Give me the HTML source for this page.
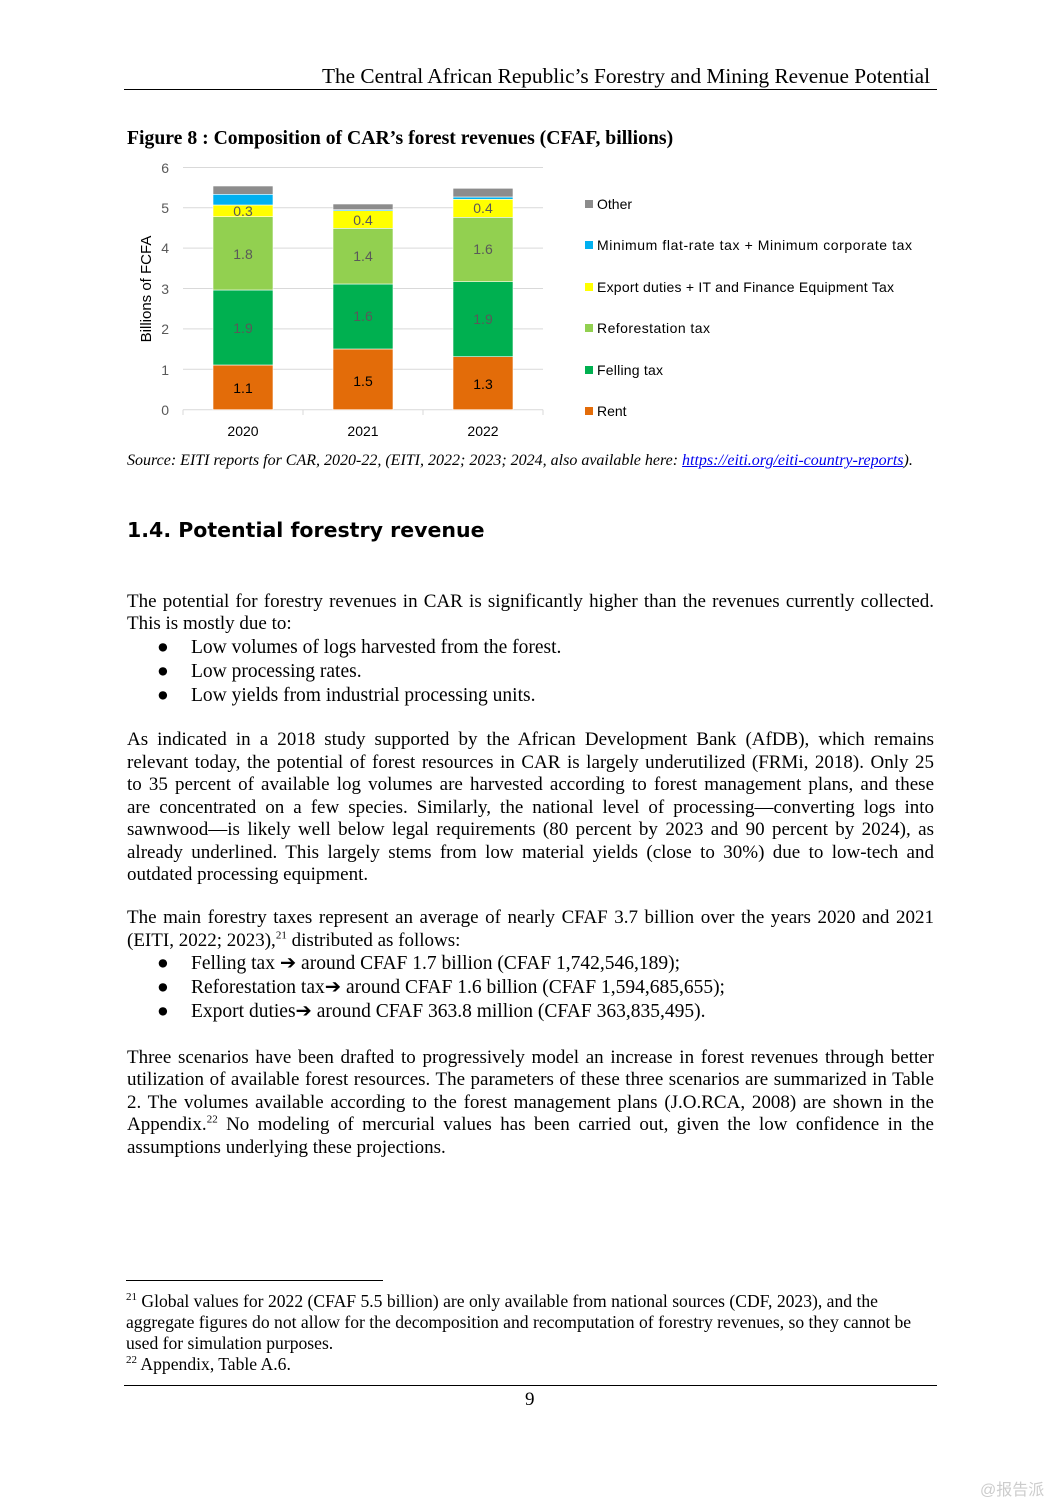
<!DOCTYPE html>
<html><head><meta charset="utf-8"><style>
body{margin:0;background:#fff;width:1061px;height:1500px;position:relative;font-family:"Liberation Serif",serif;color:#000;overflow:hidden}
.a{position:absolute;white-space:nowrap}
.l{position:absolute;left:127px;width:807px;font-size:19px;line-height:22px;white-space:nowrap;text-align:justify;text-align-last:justify}
.l.e{text-align-last:left}
.b{position:absolute;left:157px;font-size:19.5px;line-height:22px;white-space:nowrap}
.b span{position:absolute;left:34px}
.s{font-family:"DejaVu Sans",sans-serif}
sup{font-size:11px;line-height:0}
.f{position:absolute;left:126px;font-size:17.6px;line-height:21px;white-space:nowrap}
</style></head><body>
<div class="a" style="left:322px;top:64px;font-size:21.3px">The Central African Republic’s Forestry and Mining Revenue Potential</div>
<div class="a" style="left:124px;top:89px;width:813px;height:1px;background:#000"></div>
<div class="a" style="left:127px;top:127px;font-size:19.7px;font-weight:bold">Figure 8 : Composition of CAR’s forest revenues (CFAF, billions)</div>

<svg class="a" style="left:0;top:0" width="1061" height="480" font-family="Liberation Sans, sans-serif">
<g stroke="#d9d9d9" stroke-width="1">
<line x1="183" x2="543" y1="167.5" y2="167.5"/><line x1="183" x2="543" y1="207.7" y2="207.7"/><line x1="183" x2="543" y1="248.1" y2="248.1"/><line x1="183" x2="543" y1="288.5" y2="288.5"/><line x1="183" x2="543" y1="328.9" y2="328.9"/><line x1="183" x2="543" y1="369.3" y2="369.3"/><line x1="183" x2="543" y1="409.7" y2="409.7"/>
<line x1="183" x2="183" y1="409.7" y2="415"/><line x1="303" x2="303" y1="409.7" y2="415"/><line x1="423" x2="423" y1="409.7" y2="415"/><line x1="543" x2="543" y1="409.7" y2="415"/>
</g>
<g font-size="14" fill="#595959" text-anchor="end">
<text x="169" y="173">6</text><text x="169" y="213">5</text><text x="169" y="253">4</text><text x="169" y="294">3</text><text x="169" y="334">2</text><text x="169" y="375">1</text><text x="169" y="415">0</text>
</g>
<text transform="translate(151,289) rotate(-90)" font-size="15" text-anchor="middle" fill="#000">Billions of FCFA</text>
<g stroke="#fff" stroke-width="0.6">
<rect x="213" y="365" width="60" height="44.7" fill="#e36c09"/><rect x="213" y="290" width="60" height="75" fill="#00b050"/><rect x="213" y="216.7" width="60" height="73.3" fill="#92d050"/><rect x="213" y="205" width="60" height="11.7" fill="#ffff00"/><rect x="213" y="194.3" width="60" height="10.7" fill="#00b0f0"/><rect x="213" y="186" width="60" height="8.3" fill="#8c8c8c"/>
<rect x="333" y="349" width="60" height="60.7" fill="#e36c09"/><rect x="333" y="284" width="60" height="65" fill="#00b050"/><rect x="333" y="228.3" width="60" height="55.7" fill="#92d050"/><rect x="333" y="210.7" width="60" height="17.6" fill="#ffff00"/><rect x="333" y="209.7" width="60" height="1" fill="#00b0f0"/><rect x="333" y="204" width="60" height="5.7" fill="#8c8c8c"/>
<rect x="453" y="356.7" width="60" height="53" fill="#e36c09"/><rect x="453" y="281.7" width="60" height="75" fill="#00b050"/><rect x="453" y="217.3" width="60" height="64.4" fill="#92d050"/><rect x="453" y="199.3" width="60" height="18" fill="#ffff00"/><rect x="453" y="197" width="60" height="2.3" fill="#00b0f0"/><rect x="453" y="188.3" width="60" height="8.7" fill="#8c8c8c"/>
</g>
<g font-size="14" text-anchor="middle" fill="#595959">
<text x="243" y="216">0.3</text><text x="243" y="259">1.8</text><text x="243" y="333">1.9</text>
<text x="363" y="225">0.4</text><text x="363" y="261">1.4</text><text x="363" y="321">1.6</text>
<text x="483" y="213">0.4</text><text x="483" y="254">1.6</text><text x="483" y="324">1.9</text>
</g>
<g font-size="14" text-anchor="middle" fill="#000">
<text x="243" y="393">1.1</text><text x="363" y="386">1.5</text><text x="483" y="389">1.3</text>
<text x="243" y="436">2020</text><text x="363" y="436">2021</text><text x="483" y="436">2022</text>
</g>
<g font-size="14" fill="#000">
<rect x="585" y="200" width="8" height="8" fill="#8c8c8c"/><text x="597" y="209">Other</text>
<rect x="585" y="241" width="8" height="8" fill="#00b0f0"/><text x="597" y="250" textLength="315">Minimum flat-rate tax + Minimum corporate tax</text>
<rect x="585" y="283" width="8" height="8" fill="#ffff00"/><text x="597" y="292" textLength="297">Export duties + IT and Finance Equipment Tax</text>
<rect x="585" y="324" width="8" height="8" fill="#92d050"/><text x="597" y="333" textLength="113">Reforestation tax</text>
<rect x="585" y="366" width="8" height="8" fill="#00b050"/><text x="597" y="375" textLength="66">Felling tax</text>
<rect x="585" y="407" width="8" height="8" fill="#e36c09"/><text x="597" y="416">Rent</text>
</g>
</svg>

<div class="a" style="left:127px;top:452px;font-size:16px;font-style:italic">Source: EITI reports for CAR, 2020-22, (EITI, 2022; 2023; 2024, also available here: <span style="color:#0000ee;text-decoration:underline">https://eiti.org/eiti-country-reports</span>).</div>

<div class="a s" style="left:127px;top:518px;font-size:20.5px;font-weight:bold">1.4. Potential forestry revenue</div>

<div class="l" style="top:591px">The potential for forestry revenues in CAR is significantly higher than the revenues currently collected.</div>
<div class="l e" style="top:613px">This is mostly due to:</div>
<div class="b" style="top:637px">●<span>Low volumes of logs harvested from the forest.</span></div>
<div class="b" style="top:661px">●<span>Low processing rates.</span></div>
<div class="b" style="top:685px">●<span>Low yields from industrial processing units.</span></div>

<div class="l" style="top:729px">As indicated in a 2018 study supported by the African Development Bank (AfDB), which remains</div>
<div class="l" style="top:752px">relevant today, the potential of forest resources in CAR is largely underutilized (FRMi, 2018). Only 25</div>
<div class="l" style="top:774px">to 35 percent of available log volumes are harvested according to forest management plans, and these</div>
<div class="l" style="top:797px">are concentrated on a few species. Similarly, the national level of processing—converting logs into</div>
<div class="l" style="top:819px">sawnwood—is likely well below legal requirements (80 percent by 2023 and 90 percent by 2024), as</div>
<div class="l" style="top:842px">already underlined. This largely stems from low material yields (close to 30%) due to low-tech and</div>
<div class="l e" style="top:864px">outdated processing equipment.</div>

<div class="l" style="top:907px">The main forestry taxes represent an average of nearly CFAF 3.7 billion over the years 2020 and 2021</div>
<div class="l e" style="top:930px">(EITI, 2022; 2023),<sup>21</sup> distributed as follows:</div>
<div class="b" style="top:953px">●<span>Felling tax ➔ around CFAF 1.7 billion (CFAF 1,742,546,189);</span></div>
<div class="b" style="top:977px">●<span>Reforestation tax➔ around CFAF 1.6 billion (CFAF 1,594,685,655);</span></div>
<div class="b" style="top:1001px">●<span>Export duties➔ around CFAF 363.8 million (CFAF 363,835,495).</span></div>

<div class="l" style="top:1047px">Three scenarios have been drafted to progressively model an increase in forest revenues through better</div>
<div class="l" style="top:1069px">utilization of available forest resources. The parameters of these three scenarios are summarized in Table</div>
<div class="l" style="top:1092px">2. The volumes available according to the forest management plans (J.O.RCA, 2008) are shown in the</div>
<div class="l" style="top:1114px">Appendix.<sup>22</sup> No modeling of mercurial values has been carried out, given the low confidence in the</div>
<div class="l e" style="top:1137px">assumptions underlying these projections.</div>

<div class="a" style="left:126px;top:1280px;width:257px;height:1px;background:#000"></div>
<div class="f" style="top:1291px"><sup>21</sup> Global values for 2022 (CFAF 5.5 billion) are only available from national sources (CDF, 2023), and the</div>
<div class="f" style="top:1312px">aggregate figures do not allow for the decomposition and recomputation of forestry revenues, so they cannot be</div>
<div class="f" style="top:1333px">used for simulation purposes.</div>
<div class="f" style="top:1354px"><sup>22</sup> Appendix, Table A.6.</div>
<div class="a" style="left:124px;top:1385px;width:813px;height:1px;background:#000"></div>
<div class="a" style="left:525px;top:1389px;font-size:19px">9</div>
<div class="a" style="left:980px;top:1476px;font-size:16px;color:#ccc;font-family:'Liberation Sans','Noto Sans CJK SC',sans-serif">@报告派</div>
</body></html>
